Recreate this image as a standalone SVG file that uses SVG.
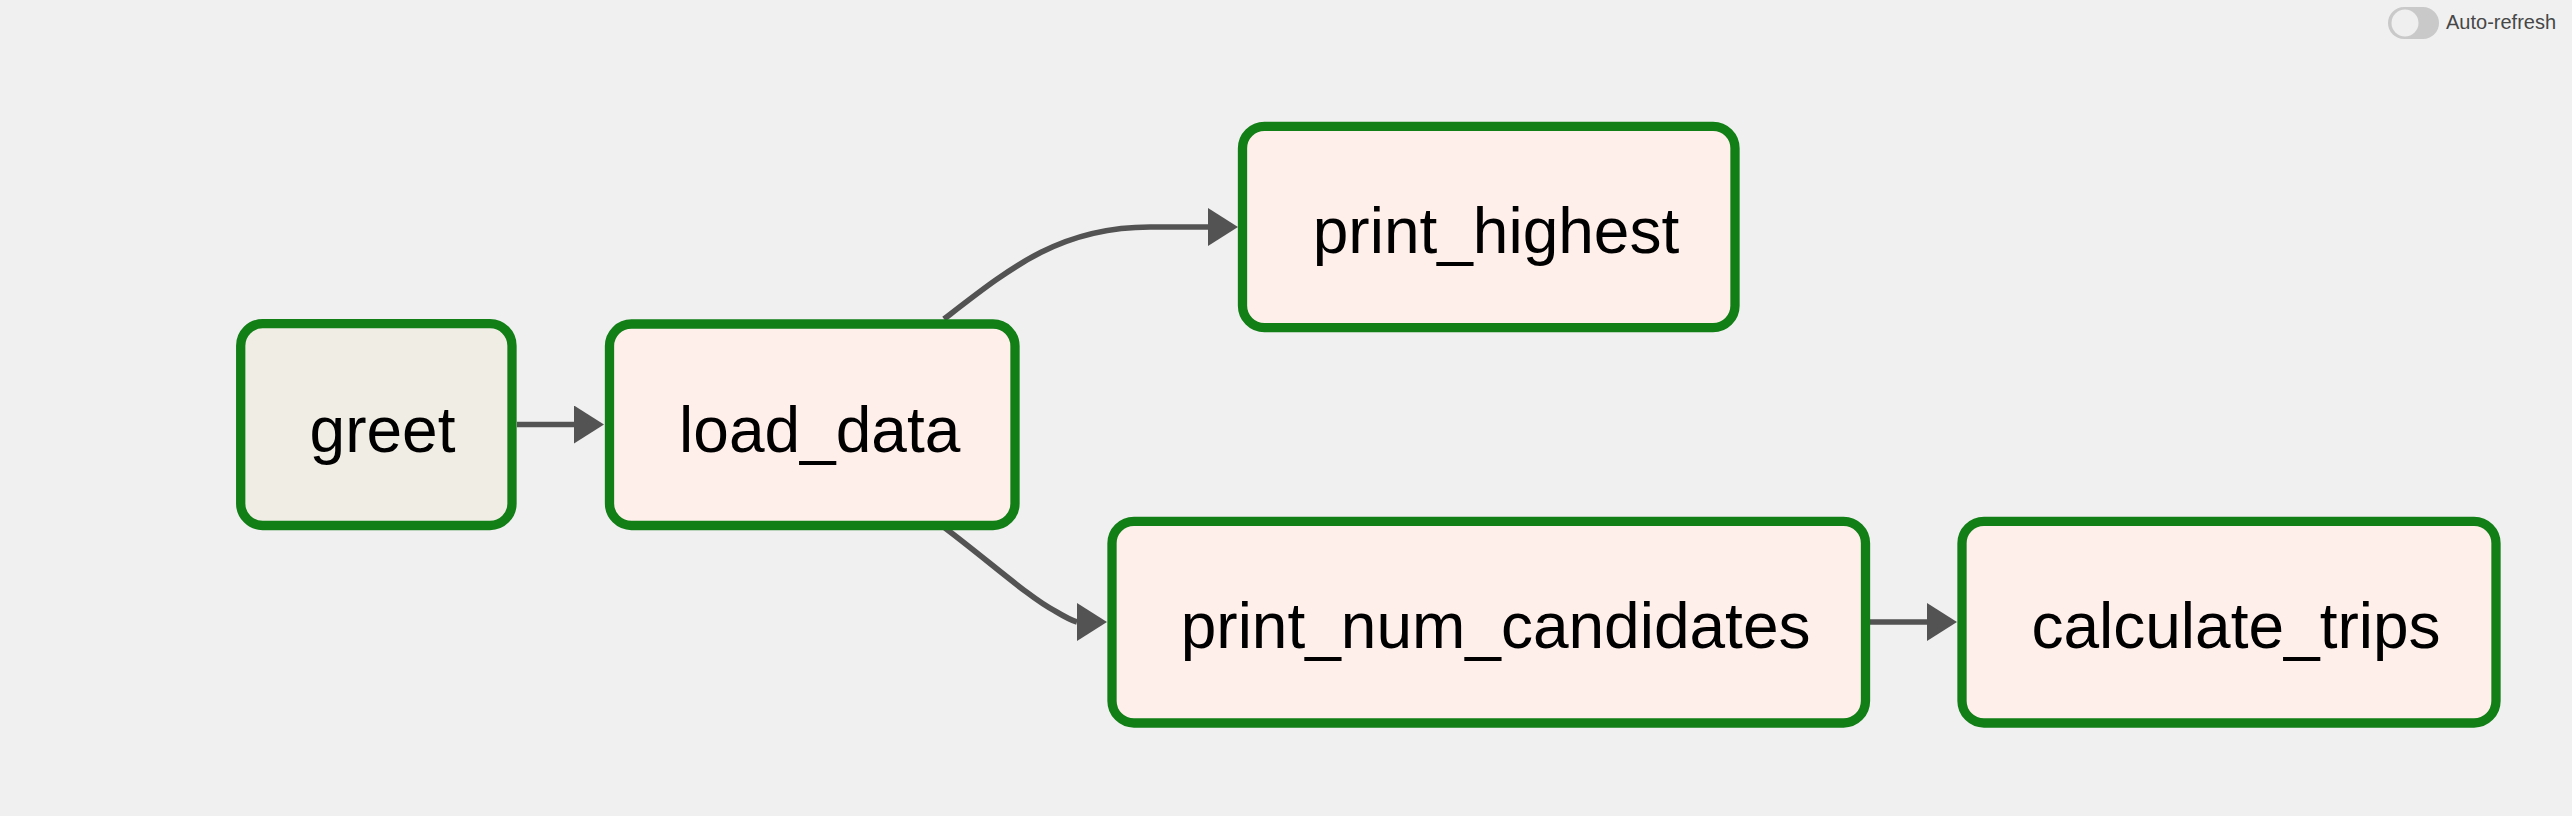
<svg xmlns="http://www.w3.org/2000/svg" width="2572" height="816" viewBox="0 0 2572 816">
  <style>
    .box { stroke: #117e16; stroke-width: 9.3; }
    .op-bash { fill: #f0ede4; }
    .op-py { fill: #ffefeb; }
    .label { font-family: "Liberation Sans", Arial, Helvetica, sans-serif; font-size: 64px; fill: #000; text-anchor: middle; }
    .edge { fill: none; stroke: #535353; stroke-width: 5.7; }
    .ui { font-family: "Liberation Sans", Arial, Helvetica, sans-serif; font-size: 20px; fill: #474747; }
  </style>
  <defs>
    <marker id="arrow" markerUnits="userSpaceOnUse" markerWidth="30" markerHeight="38" refX="0" refY="19" orient="0" viewBox="0 0 30 38">
      <path d="M0,0 L30,19 L0,38 z" fill="#535353"/>
    </marker>
  </defs>
  <rect x="0" y="0" width="2572" height="816" fill="#f0f0f0"/>

  <g id="auto-refresh">
    <rect x="2388" y="7" width="51" height="32" rx="16" fill="#c9c9c9"/>
    <circle cx="2405" cy="23" r="13.5" fill="#efefef"/>
    <text class="ui" x="2446" y="28.5">Auto-refresh</text>
  </g>

  <g id="edges">
    <path class="edge" d="M517,424.5 L574,424.5" marker-end="url(#arrow)"/>
    <path class="edge" d="M944,319 C1010,268 1060,227 1150,227 L1208,227" marker-end="url(#arrow)"/>
    <path class="edge" d="M945,528 C990,562 1030,598 1055,611 C1065,617 1070,620 1077,622" marker-end="url(#arrow)"/>
    <path class="edge" d="M1870,622 L1927,622" marker-end="url(#arrow)"/>
  </g>

  <g id="greet">
    <rect class="box op-bash" x="240.7" y="323.7" width="271.3" height="201.8" rx="22"/>
    <text class="label" x="382.5" y="451.5">greet</text>
  </g>
  <g id="load_data">
    <rect class="box op-py" x="609.5" y="324" width="405.5" height="201.5" rx="22"/>
    <text class="label" x="819.7" y="451.5">load_data</text>
  </g>
  <g id="print_highest">
    <rect class="box op-py" x="1242.5" y="126.3" width="492.5" height="201.4" rx="22"/>
    <text class="label" x="1496" y="253.3">print_highest</text>
  </g>
  <g id="print_num_candidates">
    <rect class="box op-py" x="1112" y="521.3" width="753.5" height="201.7" rx="22"/>
    <text class="label" x="1495.6" y="647.7">print_num_candidates</text>
  </g>
  <g id="calculate_trips">
    <rect class="box op-py" x="1962" y="521.3" width="534" height="201.7" rx="22"/>
    <text class="label" x="2236" y="647.7">calculate_trips</text>
  </g>
</svg>
